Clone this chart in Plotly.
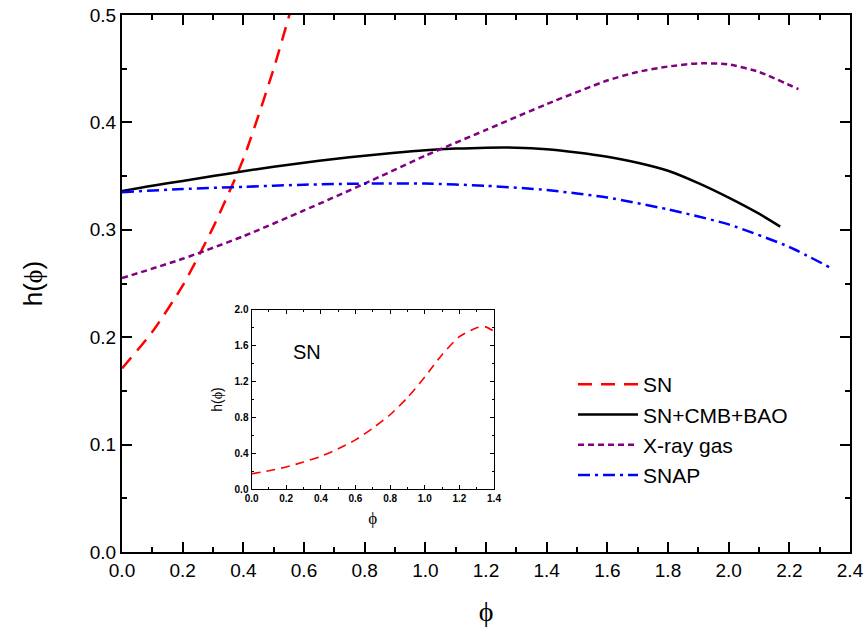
import plotly.graph_objects as go

# ---- data ----
sn_x = [0.0, 0.1, 0.2, 0.3, 0.4, 0.5, 0.6, 0.7, 0.8, 0.9, 1.0, 1.1, 1.2, 1.3, 1.35, 1.4]
sn_y = [0.171, 0.205, 0.248, 0.302, 0.366, 0.45, 0.55, 0.68, 0.83, 1.02, 1.25, 1.5, 1.7, 1.8, 1.81, 1.76]

cmb_x = [0.0, 0.1, 0.2, 0.3, 0.4, 0.5, 0.6, 0.7, 0.8, 0.9, 1.0, 1.1, 1.2, 1.3, 1.4, 1.5,
         1.6, 1.7, 1.8, 1.9, 2.0, 2.1, 2.17]
cmb_y = [0.336, 0.341, 0.3455, 0.350, 0.3545, 0.3587, 0.3625, 0.366, 0.369, 0.3717, 0.374, 0.3756,
         0.3765, 0.3765, 0.375, 0.372, 0.368, 0.3625, 0.355, 0.3435, 0.330, 0.315, 0.303]

xray_x = [0.0, 0.2, 0.4, 0.6, 0.8, 1.0, 1.2, 1.4, 1.6, 1.7, 1.8, 1.9, 2.0, 2.1, 2.23]
xray_y = [0.255, 0.273, 0.294, 0.318, 0.343, 0.369, 0.393, 0.417, 0.439, 0.447, 0.452, 0.455, 0.454, 0.447, 0.431]

snap_x = [0.0, 0.2, 0.4, 0.6, 0.8, 1.0, 1.2, 1.4, 1.6, 1.8, 2.0, 2.2, 2.34]
snap_y = [0.335, 0.338, 0.340, 0.342, 0.343, 0.343, 0.341, 0.337, 0.330, 0.319, 0.305, 0.284, 0.264]

main_xticks = [0.0, 0.2, 0.4, 0.6, 0.8, 1.0, 1.2, 1.4, 1.6, 1.8, 2.0, 2.2, 2.4]
main_yticks = [0.0, 0.1, 0.2, 0.3, 0.4, 0.5]
inset_xticks = [0.0, 0.2, 0.4, 0.6, 0.8, 1.0, 1.2, 1.4]
inset_yticks = [0.0, 0.4, 0.8, 1.2, 1.6, 2.0]

SANS = "Liberation Sans, Arial, sans-serif"
SERIF = "Liberation Serif, DejaVu Serif, serif"
PHI_CH = "\u03d5"
PHI = "<span style='font-family:Liberation Serif'>" + PHI_CH + "</span>"

fig = go.Figure()

fig.add_trace(go.Scatter(x=sn_x, y=sn_y, mode="lines", name="SN", legendgroup="a",
                         line=dict(color="#ff0000", width=2.5, dash="14px,9px", shape="spline", smoothing=0.6)))
fig.add_trace(go.Scatter(x=cmb_x, y=cmb_y, mode="lines", name="SN+CMB+BAO", legendgroup="b",
                         line=dict(color="#000000", width=2.5, shape="spline", smoothing=0.8)))
fig.add_trace(go.Scatter(x=xray_x, y=xray_y, mode="lines", name="X-ray gas", legendgroup="c",
                         line=dict(color="#800080", width=2.5, dash="6px,4px", shape="spline", smoothing=0.6)))
fig.add_trace(go.Scatter(x=snap_x, y=snap_y, mode="lines", name="SNAP", legendgroup="d",
                         line=dict(color="#0000ff", width=2.5, dash="12px,5px,3px,5px", shape="spline", smoothing=0.6)))

# inset
fig.add_trace(go.Scatter(x=sn_x, y=sn_y, mode="lines", showlegend=False, xaxis="x2", yaxis="y2",
                         line=dict(color="#ff0000", width=1.6, dash="9px,6px", shape="spline", smoothing=0.6)))

axis_common = dict(showline=True, linecolor="black", mirror="ticks", ticks="inside",
                   showgrid=False, zeroline=False, tickcolor="black", automargin=False,
                   ticklabeloverflow="allow")

fig.update_layout(
    template="none",
    width=867, height=636,
    margin=dict(l=122, r=17, t=15, b=84),
    paper_bgcolor="white", plot_bgcolor="white",
    font=dict(family=SANS, color="black"),
    xaxis=dict(axis_common, range=[0, 2.4], tickvals=main_xticks, tickformat=".1f",
               linewidth=2, tickwidth=2, ticklen=10,
               minor=dict(dtick=0.1, ticklen=5, tickwidth=2, ticks="inside", tickcolor="black"),
               tickfont=dict(size=19, family=SANS),
               title=dict(text=PHI_CH, font=dict(size=28, family=SERIF), standoff=22)),
    yaxis=dict(axis_common, range=[0, 0.5], tickvals=main_yticks, tickformat=".1f",
               linewidth=2, tickwidth=2, ticklen=10,
               minor=dict(dtick=0.05, ticklen=5, tickwidth=2, ticks="inside", tickcolor="black"),
               tickfont=dict(size=19, family=SANS),
               title=dict(text="h(" + PHI + ")", font=dict(size=26, family=SANS), standoff=40)),
    xaxis2=dict(axis_common, domain=[0.178, 0.511], anchor="y2", range=[0, 1.4],
                tickvals=inset_xticks, tickformat=".1f", linewidth=1.2, tickwidth=1.2, ticklen=4,
                minor=dict(dtick=0.1, ticklen=2, tickwidth=1, ticks="inside", tickcolor="black"),
                tickfont=dict(size=10, family=SANS, weight="bold"),
                title=dict(text=PHI_CH, font=dict(size=17, family=SERIF), standoff=8)),
    yaxis2=dict(axis_common, domain=[0.117, 0.451], anchor="x2", range=[0, 2.0],
                tickvals=inset_yticks, tickformat=".1f", linewidth=1.2, tickwidth=1.2, ticklen=4,
                minor=dict(dtick=0.2, ticklen=2, tickwidth=1, ticks="inside", tickcolor="black"),
                tickfont=dict(size=10, family=SANS, weight="bold"),
                title=dict(text="h(" + PHI + ")", font=dict(size=14, family=SANS), standoff=8)),
    legend=dict(x=0.6195, y=0.35, xanchor="left", yanchor="top", bgcolor="rgba(0,0,0,0)",
                font=dict(size=21, family=SANS), tracegroupgap=4, traceorder="normal",
                itemwidth=60),
    annotations=[dict(x=0.32, y=1.53, xref="x2", yref="y2", text="SN", showarrow=False,
                      font=dict(size=20, family=SANS))],
    showlegend=True,
)

# remove the default 8px page margin so the 867x636 figure fills the window exactly
fig.write_html("out.html", config={"displayModeBar": False},
               post_script="document.body.style.margin='0px';document.body.style.overflow='hidden';")
